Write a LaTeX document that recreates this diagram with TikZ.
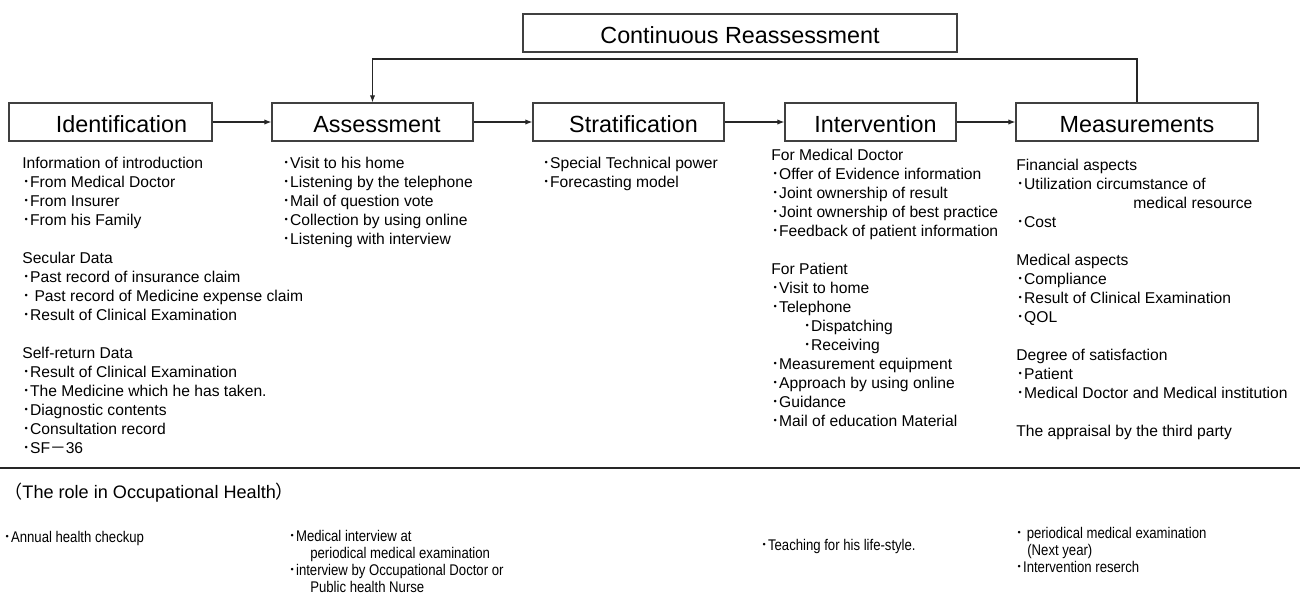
\documentclass[tikz,border=0pt]{standalone}
\usepackage{fontspec}
\setmainfont{Liberation Sans}
\newfontfamily\cjk{Noto Sans CJK JP}
\newfontfamily\narrowfont[FakeStretch=0.85]{Liberation Sans}
\usetikzlibrary{arrows.meta}
\newcommand\bdot{{\cjk ･}}
\tikzset{
  stage/.style={draw=black!75, line width=0.7pt, minimum height=0.76cm, inner sep=0pt,
    text height=12pt, text depth=0.6pt,
    font=\fontsize{13.3}{16}\selectfont},
  items/.style={anchor=north west, yshift=7pt, align=left, inner sep=0pt,
    execute at begin node={\rule{0pt}{7pt}},
    font=\fontsize{8.9}{10.8}\selectfont},
  roleitems/.style={anchor=north west, yshift=7pt, align=left, inner sep=0pt,
    execute at begin node={\rule{0pt}{7pt}},
    font=\narrowfont\fontsize{8.8}{9.7}\selectfont},
  flow/.style={-{Latex[length=4pt,width=3pt]}, line width=0.6pt, black!85},
}
\begin{document}
\begin{tikzpicture}[x=0.02cm,y=-0.02cm]
  \useasboundingbox (0,0) rectangle (1300,596);
  % the five stages and the loop box
  \node[stage, minimum width=4.06cm] (ident) at (110.5,122) {\hspace*{0.44cm}Identification};
  \node[stage, minimum width=4.02cm] (assess) at (372.5,122) {\hspace*{0.18cm}Assessment};
  \node[stage, minimum width=3.82cm] (strat) at (628.5,122) {\hspace*{0.2cm}Stratification};
  \node[stage, minimum width=3.42cm] (interv) at (870.5,122) {\hspace*{0.2cm}Intervention};
  \node[stage, minimum width=4.84cm] (meas) at (1137,122) {Measurements};
  \node[stage, minimum width=8.68cm] (reass) at (740,33) {Continuous Reassessment};
  \draw[flow] (ident) -- (assess);
  \draw[flow] (assess) -- (strat);
  \draw[flow] (strat) -- (interv);
  \draw[flow] (interv) -- (meas);
  \coordinate (fb) at (0,59);
  \draw[flow] (meas.north) |- (fb -| assess.north) -- (assess.north);
  % contents of each stage
  \node[items] (identtxt) at (22,169) {Information of introduction\\
    \bdot From Medical Doctor\\
    \bdot From Insurer\\
    \bdot From his Family\\[10.8pt]
    Secular Data\\
    \bdot Past record of insurance claim\\
    \bdot\ Past record of Medicine expense claim\\
    \bdot Result of Clinical Examination\\[10.8pt]
    Self-return Data\\
    \bdot Result of Clinical Examination\\
    \bdot The Medicine which he has taken.\\
    \bdot Diagnostic contents\\
    \bdot Consultation record\\
    \bdot SF{\cjk －}36};
  \node[items] (assesstxt) at (282,169) {\bdot Visit to his home\\
    \bdot Listening by the telephone\\
    \bdot Mail of question vote\\
    \bdot Collection by using online\\
    \bdot Listening with interview};
  \node[items] (strattxt) at (542,169) {\bdot Special Technical power\\
    \bdot Forecasting model};
  \node[items] (intervtxt) at (771,161) {For Medical Doctor\\
    \bdot Offer of Evidence information\\
    \bdot Joint ownership of result\\
    \bdot Joint ownership of best practice\\
    \bdot Feedback of patient information\\[10.8pt]
    For Patient\\
    \bdot Visit to home\\
    \bdot Telephone\\
    \hspace*{0.64cm}\bdot Dispatching\\
    \hspace*{0.64cm}\bdot Receiving\\
    \bdot Measurement equipment\\
    \bdot Approach by using online\\
    \bdot Guidance\\
    \bdot Mail of education Material};
  \node[items] (meastxt) at (1016,171) {Financial aspects\\
    \bdot Utilization circumstance of\\
    \hspace*{2.34cm}medical resource\\
    \bdot Cost\\[10.8pt]
    Medical aspects\\
    \bdot Compliance\\
    \bdot Result of Clinical Examination\\
    \bdot QOL\\[10.8pt]
    Degree of satisfaction\\
    \bdot Patient\\
    \bdot Medical Doctor and Medical institution\\[10.8pt]
    The appraisal by the third party};
  % occupational health part
  \draw[line width=1.6pt, black!85] (0,468) -- (1300,468);
  \node[anchor=base west, inner sep=0pt, font=\fontsize{10.3}{12}\selectfont] (role) at (4,498)
    {{\cjk （}The role in Occupational Health{\cjk ）}};
  \node[roleitems] (checkup) at (3,542) {\bdot Annual health checkup};
  \node[roleitems] (interview) at (288,542) {\bdot Medical interview at\\
    \hspace*{0.44cm}periodical medical examination\\
    \bdot interview by Occupational Doctor or\\
    \hspace*{0.44cm}Public health Nurse};
  \node[roleitems] (teaching) at (760,550) {\bdot Teaching for his life-style.};
  \node[roleitems] (nextyear) at (1015,539) {\bdot\ periodical medical examination\\
    \hspace*{0.24cm}(Next year)\\
    \bdot Intervention reserch};
\end{tikzpicture}
\end{document}
